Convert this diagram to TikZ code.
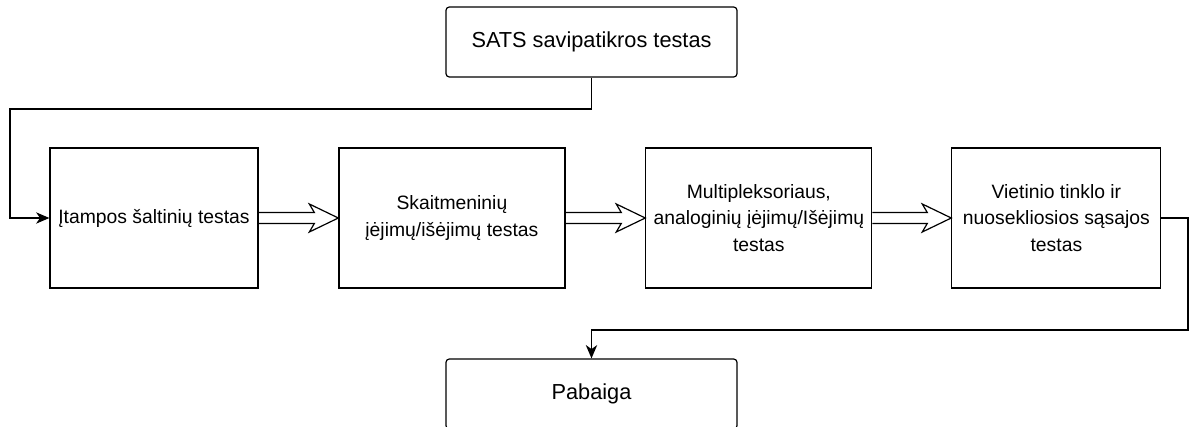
\documentclass[tikz,border=0pt]{standalone}
\usepackage{fontspec}
\setmainfont{Liberation Sans}
\usetikzlibrary{positioning, calc, arrows.meta}
% hollow block arrow between two boxes
\newcommand{\blokrodykle}[2]{%
  \draw[blokrod] ($(#1.east)+(0,-5.5)$) -- ($(#2.west)+(-24,-5.5)$) -- ($(#2.west)+(-29,-14)$) -- (#2.west)
    -- ($(#2.west)+(-29,14)$) -- ($(#2.west)+(-24,5.5)$) -- ($(#1.east)+(0,5.5)$);}

\begin{document}
\begin{tikzpicture}[x=0.75pt, y=-0.75pt,
  blok/.style={draw, line width=0.9pt, minimum height=105pt, align=center, inner sep=2pt,
    font=\fontsize{14.5pt}{20pt}\selectfont},
  galas/.style={draw, line width=0.9pt, rounded corners=2.5pt, minimum width=218.25pt,
    minimum height=52.5pt, font=\fontsize{16.3pt}{19pt}\selectfont},
  linija/.style={line width=0.9pt, -{Stealth[length=10pt, width=8.5pt, inset=3pt]}},
  blokrod/.style={line width=0.9pt, line join=miter}]
\useasboundingbox (0,0) rectangle (1189,427);

\node[galas] (sats) at (591.5,42) {SATS savipatikros testas};
\node[blok, minimum width=156pt] (itampos) at (154,218) {Įtampos šaltinių testas};
\node[blok, minimum width=169.5pt, right=59.8pt of itampos] (skaitm) {Skaitmeninių\\įėjimų/išėjimų testas};
\node[blok, minimum width=169.5pt, right=59.8pt of skaitm] (multipl) {Multipleksoriaus,\\analoginių įėjimų/Išėjimų\\testas};
\node[blok, minimum width=156.75pt, right=59.1pt of multipl] (vietin) {Vietinio tinklo ir\\nuosekliosios sąsajos\\testas};
\node[galas] (pabaiga) at (591.5,394) {Pabaiga};

\coordinate (kairys) at (10,109);
\coordinate (desine) at (1188,330);

\draw[linija] (sats.south) |- (kairys) |- (itampos.west);
\blokrodykle{itampos}{skaitm}
\blokrodykle{skaitm}{multipl}
\blokrodykle{multipl}{vietin}
\draw[linija] (vietin.east) -| (desine) -| (pabaiga.north);
\end{tikzpicture}
\end{document}
